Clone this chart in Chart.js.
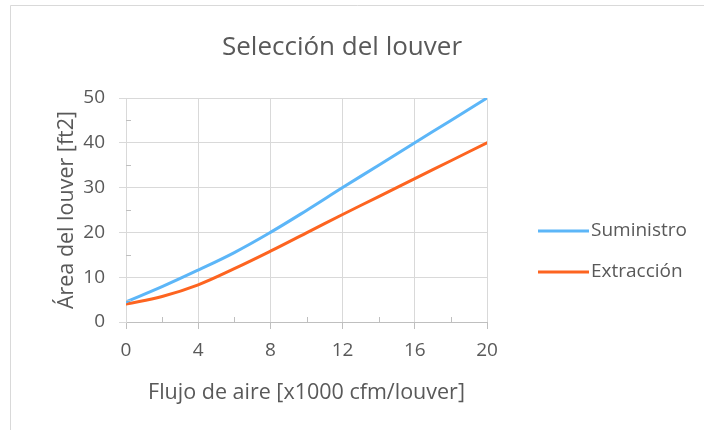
<!DOCTYPE html>
<html lang="es">
<head>
<meta charset="utf-8">
<title>Selección del louver</title>
<script src="https://cdn.jsdelivr.net/npm/chart.js@4.4.1/dist/chart.umd.min.js"></script>
<style>
  html, body { margin: 0; padding: 0; background: #ffffff; overflow: hidden; }
  #wrap { position: relative; width: 704px; height: 430px; }
</style>
</head>
<body>
<div id="wrap"><canvas id="chart" width="704" height="430"></canvas></div>
<script>
// Airflow per louver [x1000 cfm] and required louver area [ft2]
const flujo = [0, 2, 4, 6, 8, 10, 12, 14, 16, 18, 20];
const suministro = [4.5, 7.9, 11.6, 15.5, 20.0, 24.9, 30.0, 35.0, 40.0, 45.0, 50.0];
const extraccion = [4.0, 5.7, 8.3, 11.9, 15.8, 19.9, 24.0, 28.0, 32.0, 36.0, 40.0];
const serieNombres = ['Suministro', 'Extracción'];
const titulo = 'Selección del louver';
const tituloX = 'Flujo de aire [x1000 cfm/louver]';
const tituloY = 'Área del louver [ft2]';
const xTicks = [0, 4, 8, 12, 16, 20];
const yTicks = [0, 10, 20, 30, 40, 50];

const FONT = '"Open Sans", "Noto Sans", sans-serif';
const TEXT = '#595959';
const GRID = '#d9d9d9';
const AXIS = '#bfbfbf';
const COLORS = ['#5cb6f8', '#fd6420'];

const toPoints = (xs, ys) => xs.map((x, i) => ({ x, y: ys[i] }));

// Frame, title, minor tick marks and the legend on the right
const decor = {
  id: 'decor',
  beforeDraw(chart) {
    const ctx = chart.ctx;
    ctx.save();
    ctx.strokeStyle = GRID;
    ctx.lineWidth = 1;
    ctx.beginPath();
    ctx.moveTo(10.5, 430);
    ctx.lineTo(10.5, 5.5);
    ctx.lineTo(704, 5.5);
    ctx.stroke();
    ctx.restore();
  },
  afterDraw(chart) {
    const ctx = chart.ctx;
    const xs = chart.scales.x, ys = chart.scales.y;
    const area = chart.chartArea;
    ctx.save();
    // minor tick marks, drawn inside the plot area
    ctx.strokeStyle = AXIS;
    ctx.lineWidth = 1;
    ctx.beginPath();
    for (let v = 2; v < 20; v += 4) {
      const px = Math.round(xs.getPixelForValue(v)) + 0.5;
      ctx.moveTo(px, area.bottom);
      ctx.lineTo(px, area.bottom - 5);
    }
    for (let v = 5; v < 50; v += 10) {
      const py = Math.round(ys.getPixelForValue(v)) + 0.5;
      ctx.moveTo(area.left, py);
      ctx.lineTo(area.left + 5, py);
    }
    ctx.stroke();

    // chart title
    ctx.fillStyle = TEXT;
    ctx.font = '26px ' + FONT;
    ctx.textAlign = 'center';
    ctx.textBaseline = 'middle';
    ctx.fillText(titulo, 342, 48);

    // legend
    ctx.font = '19px ' + FONT;
    ctx.textAlign = 'left';
    chart.data.datasets.forEach((ds, i) => {
      const y = 231 + i * 41;
      ctx.strokeStyle = ds.borderColor;
      ctx.lineWidth = 3;
      ctx.beginPath();
      ctx.moveTo(538, y);
      ctx.lineTo(589, y);
      ctx.stroke();
      ctx.fillStyle = TEXT;
      ctx.fillText(ds.label, 591, y);
    });
    ctx.restore();
  }
};

new Chart(document.getElementById('chart'), {
  type: 'line',
  data: {
    datasets: [
      {
        label: serieNombres[0],
        data: toPoints(flujo, suministro),
        borderColor: COLORS[0],
        backgroundColor: COLORS[0],
        borderWidth: 3,
        pointRadius: 0,
        tension: 0.4,
        borderCapStyle: 'round'
      },
      {
        label: serieNombres[1],
        data: toPoints(flujo, extraccion),
        borderColor: COLORS[1],
        backgroundColor: COLORS[1],
        borderWidth: 3,
        pointRadius: 0,
        tension: 0.4,
        borderCapStyle: 'round'
      }
    ]
  },
  options: {
    responsive: false,
    animation: false,
    layout: { padding: { top: 98, right: 217, bottom: 0, left: 0 } },
    plugins: {
      legend: { display: false },
      title: { display: false },
      tooltip: { enabled: false }
    },
    scales: {
      x: {
        type: 'linear',
        min: 0,
        max: 20,
        afterFit(s) { s.height = 108; },
        afterBuildTicks(s) { s.ticks = xTicks.map(v => ({ value: v })); },
        grid: { color: GRID, lineWidth: 1, tickLength: 7, tickColor: AXIS, drawTicks: true },
        border: { display: true, color: AXIS, width: 1 },
        ticks: { color: TEXT, font: { family: FONT, size: 19 }, padding: 10, maxRotation: 0 },
        title: {
          display: true,
          text: tituloX,
          color: TEXT,
          font: { family: FONT, size: 21.5 },
          padding: { top: 0, bottom: 24 }
        }
      },
      y: {
        min: 0,
        max: 50,
        afterFit(s) { s.width = 126; },
        afterBuildTicks(s) { s.ticks = yTicks.map(v => ({ value: v })); },
        grid: { color: GRID, lineWidth: 1, tickLength: 7, tickColor: GRID, drawTicks: true },
        border: { display: true, color: GRID, width: 1 },
        ticks: { color: TEXT, font: { family: FONT, size: 19 }, padding: 14 },
        title: {
          display: true,
          text: tituloY,
          color: TEXT,
          font: { family: FONT, size: 21.5 },
          padding: { top: 54, bottom: 0 }
        }
      }
    }
  },
  plugins: [decor]
});
</script>
</body>
</html>
